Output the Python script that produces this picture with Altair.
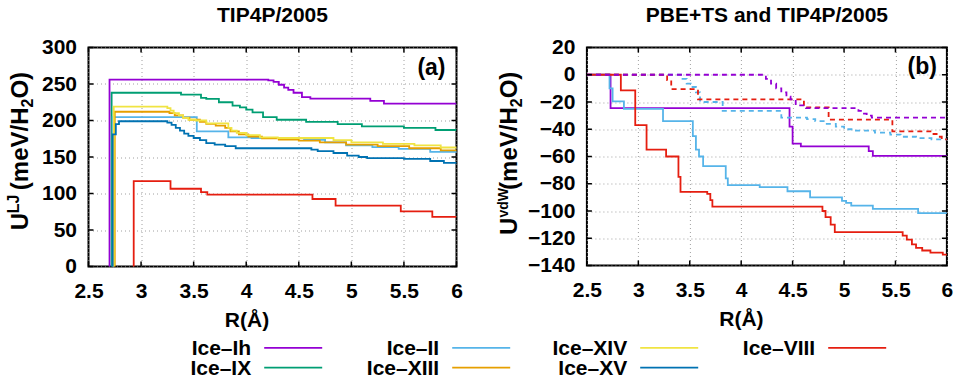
import altair as alt
import pandas as pd

FONT = "Liberation Sans, Arial, Helvetica, DejaVu Sans, sans-serif"

names = ["Ice–Ih", "Ice–IX", "Ice–II", "Ice–XIII", "Ice–XIV", "Ice–XV", "Ice–VIII"]
colors = ["#9400d3", "#009e73", "#56b4e9", "#e69f00", "#f0e442", "#0072b2", "#e51e10"]

x_ticks = [2.5, 3, 3.5, 4, 4.5, 5, 5.5, 6]
ya_ticks = [0, 50, 100, 150, 200, 250, 300]
yb_ticks = [-140, -120, -100, -80, -60, -40, -20, 0, 20]

# y-axis titles, split into normal / superscript / subscript pieces
ya_title = ["U", "LJ", "(meV/H", "2", "O)"]
yb_title = ["U", "vdW", "(meV/H", "2", "O)"]

# ---------------- panel (a): U^LJ, TIP4P/2005 ----------------
a_ih_R = [2.66, 2.70, 4.21, 4.26, 4.31, 4.36, 4.40, 4.45, 4.53, 4.61, 5.18, 5.31, 6.0]
a_ih_U = [-200, 256, 255, 253, 249, 245, 242, 238, 232, 230, 227, 223, 223]

a_ix_R = [2.67, 2.72, 3.38, 3.57, 3.62, 3.74, 3.87, 3.94, 4.0, 4.06, 4.16, 4.29, 4.57, 4.87, 5.1, 5.5, 5.8, 6.0]
a_ix_U = [-200, 238, 235.5, 231, 229.5, 225, 220.5, 218, 215, 211, 204.5, 201, 198, 195, 192, 190, 187, 187]

a_ii_R = [2.66, 2.73, 3.53, 3.83, 4.05, 4.55, 4.75, 4.95, 5.2, 5.45, 5.75, 6.0]
a_ii_U = [-200, 204.5, 185, 177, 176, 173.5, 170, 166, 163.5, 161, 157, 156]

a_xiii_R = [2.66, 2.75, 3.27, 3.32, 3.40, 3.46, 3.56, 3.62, 3.71, 3.80, 3.85, 3.93, 4.02, 4.15, 4.31, 4.5, 4.7, 4.95, 5.25, 5.55, 5.85, 6.0]
a_xiii_U = [-200, 212, 210, 207, 204, 201, 198, 195.5, 193, 190, 185, 181, 178, 175.5, 174, 172.5, 170, 167, 165, 162, 159, 158]

a_xiv_R = [2.67, 2.74, 3.25, 3.28, 3.31, 3.36, 3.40, 3.45, 3.52, 3.62, 3.83, 3.86, 3.91, 4.0, 4.13, 4.3, 4.55, 4.83, 5.0, 5.3, 5.6, 5.85, 6.0]
a_xiv_U = [-200, 219, 217, 213.5, 210, 207, 203.5, 201, 200, 196, 190, 186, 183, 180, 177, 176, 176, 173, 170, 168, 166, 163, 162]

a_xv_R = [2.67, 2.73, 2.76, 2.79, 3.25, 3.29, 3.33, 3.37, 3.41, 3.45, 3.50, 3.56, 3.62, 3.70, 3.80, 3.90, 4.62, 4.68, 4.83, 4.96, 5.07, 5.15, 5.5, 5.75, 5.88, 6.0]
a_xv_U = [-200, 181, 195, 199, 197, 194, 190, 186, 182, 179, 176, 173, 169, 167, 165, 162, 160, 158, 155.5, 152, 150, 148.5, 147.5, 144.5, 142, 141]

a_viii_R = [2.88, 2.93, 3.28, 3.57, 3.63, 4.63, 4.85, 5.47, 5.77, 6.0]
a_viii_U = [-200, 117, 106.5, 102, 98.5, 92.5, 83.5, 75.5, 68, 68]

# ---------------- panel (b): U^vdW, PBE+TS (solid) and TIP4P/2005 (dashed) ----------------
b_ih_R = [2.5, 2.73, 4.47, 4.50, 4.58, 5.24, 5.28, 6.0]
b_ih_U = [0, -24.5, -38, -50.5, -52.5, -56, -59.5, -59.5]

b_ii_R = [2.5, 2.72, 2.75, 2.86, 3.24, 3.53, 3.56, 3.59, 3.63, 3.85, 3.87, 4.18, 4.45, 4.67, 4.98, 5.02, 5.07, 5.28, 5.72, 6.0]
b_ii_U = [0, -10, -19.5, -25, -34, -45, -55, -60, -67, -76, -81, -82.5, -85.5, -90, -92.5, -94, -96, -98.5, -101.5, -101.5]

b_viii_R = [2.5, 2.83, 2.97, 3.08, 3.27, 3.39, 3.41, 3.67, 3.70, 3.72, 4.79, 4.82, 4.87, 4.91, 5.57, 5.61, 5.66, 5.70, 5.76, 5.84, 5.96, 6.0]
b_viii_U = [0, -11.5, -37, -55, -60, -75, -86, -87.5, -92, -96.8, -100, -104.5, -110, -115.5, -118, -121, -124.5, -127, -129, -130.5, -132, -132]

bd_ii_R = [2.5, 3.43, 3.47, 3.51, 3.56, 3.60, 3.82, 4.39, 4.64, 4.72, 4.82, 4.92, 5.0, 5.1, 5.3, 5.45, 5.55, 5.7, 5.85, 6.0]
bd_ii_U = [0, -3, -6.5, -9, -13, -20, -26.5, -31.5, -32.5, -34, -36, -38, -40, -41, -42.5, -44, -45.5, -46.5, -47.5, -48]

bd_viii_R = [2.5, 3.28, 3.32, 3.58, 4.61, 4.85, 5.47, 5.86, 5.9, 5.95, 6.0]
bd_viii_U = [0, -4, -10.5, -18, -24, -33, -41.5, -43.5, -45.5, -47.5, -48]

bd_ih_R = [2.5, 4.24, 4.29, 4.34, 4.39, 4.44, 4.48, 4.53, 4.63, 5.14, 5.18, 5.22, 5.27, 6.0]
bd_ih_U = [0, -3, -6.5, -10, -13, -16, -18, -22.5, -24.5, -26.5, -28.5, -30, -31.5, -31.5]

# ---------------- legend layout ----------------
legend_names = ["Ice–Ih", "Ice–II", "Ice–XIV", "Ice–VIII", "Ice–IX", "Ice–XIII", "Ice–XV"]
legend_cols = [0, 1, 2, 3, 0, 1, 2]
legend_rows = [0, 0, 0, 0, 1, 1, 1]


def long(series):
    rows = []
    for name, R, U in series:
        for i, (r, u) in enumerate(zip(R, U)):
            rows.append({"name": name, "R": r, "U": u, "i": i})
    return pd.DataFrame(rows)


a_solid = long([
    ("Ice–Ih", a_ih_R, a_ih_U), ("Ice–IX", a_ix_R, a_ix_U), ("Ice–II", a_ii_R, a_ii_U),
    ("Ice–XIII", a_xiii_R, a_xiii_U), ("Ice–XIV", a_xiv_R, a_xiv_U),
    ("Ice–XV", a_xv_R, a_xv_U), ("Ice–VIII", a_viii_R, a_viii_U),
])
b_solid = long([("Ice–Ih", b_ih_R, b_ih_U), ("Ice–II", b_ii_R, b_ii_U), ("Ice–VIII", b_viii_R, b_viii_U)])
b_dash = long([("Ice–II", bd_ii_R, bd_ii_U), ("Ice–VIII", bd_viii_R, bd_viii_U), ("Ice–Ih", bd_ih_R, bd_ih_U)])

cscale = alt.Scale(domain=names, range=colors)


def text_layer(txt, size, xv, yv, **kw):
    return (alt.Chart(pd.DataFrame({"t": [txt]}))
            .mark_text(fontSize=size, fontWeight="bold", font=FONT, color="black", **kw)
            .encode(text="t:N", x=alt.value(xv), y=alt.value(yv)))


def ytitle(parts, base_x, starts, sup_size):
    sizes = [24, sup_size, 24, 16, 24]
    shifts = [0, -9, 0, 5, 0]
    return [text_layer(p, s, base_x + sh, y0, angle=270, align="left", baseline="alphabetic")
            for p, s, sh, y0 in zip(parts, sizes, shifts, starts)]


def panel(solid, dashed, ydom, yticks, W, H, title, tparts, tbase, tstarts, sup, tag, tagx, tagy, ttop):
    xs = alt.Scale(domain=[2.5, 6], nice=False, zero=False)
    ys = alt.Scale(domain=ydom, nice=False, zero=False)
    xax = alt.Axis(values=x_ticks, format="~r", title="R(Å)", titleX=W / 2 - 26,
                   labelPadding=14, titlePadding=8)
    yax = alt.Axis(values=yticks, format="~r", title=None, labelPadding=12)
    X = alt.X("R:Q", scale=xs, axis=xax)
    Y = alt.Y("U:Q", scale=ys, axis=yax)
    col = alt.Color("name:N", scale=cscale, legend=None)
    layers = []
    layers.append(alt.Chart(solid).mark_line(interpolate="step-after", strokeWidth=1.8, clip=True)
                  .encode(x=X, y=Y, color=col, order="i:Q"))
    if dashed is not None:
        layers.append(alt.Chart(dashed).mark_line(interpolate="step-after", strokeWidth=1.8,
                                                  strokeDash=[5, 4], clip=True)
                      .encode(x=X, y=Y, color=col, order="i:Q"))
    xt = pd.DataFrame({"R": x_ticks})
    yt = pd.DataFrame({"U": yticks})
    tk = dict(color="black", strokeWidth=1.5)
    L = 5
    layers.append(alt.Chart(xt).mark_rule(**tk).encode(x=X, y=alt.value(H), y2=alt.value(H - L)))
    layers.append(alt.Chart(xt).mark_rule(**tk).encode(x=X, y=alt.value(0), y2=alt.value(L)))
    layers.append(alt.Chart(yt).mark_rule(**tk).encode(y=Y, x=alt.value(0), x2=alt.value(L)))
    layers.append(alt.Chart(yt).mark_rule(**tk).encode(y=Y, x=alt.value(W), x2=alt.value(W - L)))
    layers.append(text_layer(tag, 23, tagx, tagy, align="right", baseline="middle"))
    layers.append(text_layer(title, 21, W / 2, ttop, align="center", baseline="alphabetic"))
    layers += ytitle(tparts, tbase, tstarts, sup)
    return alt.layer(*layers)


# legend, drawn below panel (a) with its own (independent) scales
leg = pd.DataFrame({"name": legend_names, "col": legend_cols, "row": legend_rows})
lx = alt.X("col:Q", scale=alt.Scale(domain=[0, 3], range=[175.7, 739.7]), axis=None)
ly = alt.Y("row:Q", scale=alt.Scale(domain=[0, 1], range=[300.4, 320.2]), axis=None)
leg_text = alt.Chart(leg).mark_text(align="right", baseline="middle", dx=-13, dy=1.2, fontSize=21,
                                    fontWeight="bold", font=FONT, color="black").encode(
    x=lx, y=ly, text="name:N")
leg_line = alt.Chart(leg).mark_rule(strokeWidth=1.8, x2Offset=58).encode(
    x=lx, x2=alt.X2("col:Q"), y=ly, color=alt.Color("name:N", scale=cscale, legend=None))
legend = alt.layer(leg_text, leg_line)

frame = alt.ViewBackground(stroke="black", strokeWidth=2)

pa = alt.layer(
    panel(a_solid, None, [0, 300], ya_ticks, 368, 219, "TIP4P/2005",
          ya_title, -60.1, [182.7, 165.7, 142.7, 60.0, 51.1], 16, "(a)", 357, 20, -25.6),
    legend,
).resolve_scale(x="independent", y="independent").properties(width=368, height=219, view=frame)

pb = panel(b_solid, b_dash, [-140, 20], yb_ticks, 360, 218, "PBE+TS and TIP4P/2005",
           yb_title, -70.2, [187.4, 170.1, 142.4, 59.7, 50.8], 14, "(b)", 350, 19, -25.6
           ).properties(width=360, height=218, view=frame)

chart = alt.hconcat(pa, pb, spacing=130.4, bounds="flush").properties(
    padding={"left": 4.5, "top": 3.5, "right": 0, "bottom": 0},
    background="white",
).configure_view(strokeWidth=0).configure_axis(
    labelFont=FONT, labelFontSize=21, labelFontWeight="bold", labelColor="black",
    titleFont=FONT, titleFontSize=21, titleFontWeight="bold", titleColor="black",
    ticks=False, tickSize=0, domain=False, grid=True, gridDash=[1, 3], gridColor="#a0a0a0",
    gridWidth=1, labelFlush=False, labelOverlap=False, labelBound=False,
)

chart.save("out.html", embed_options={"renderer": "svg", "actions": False})
